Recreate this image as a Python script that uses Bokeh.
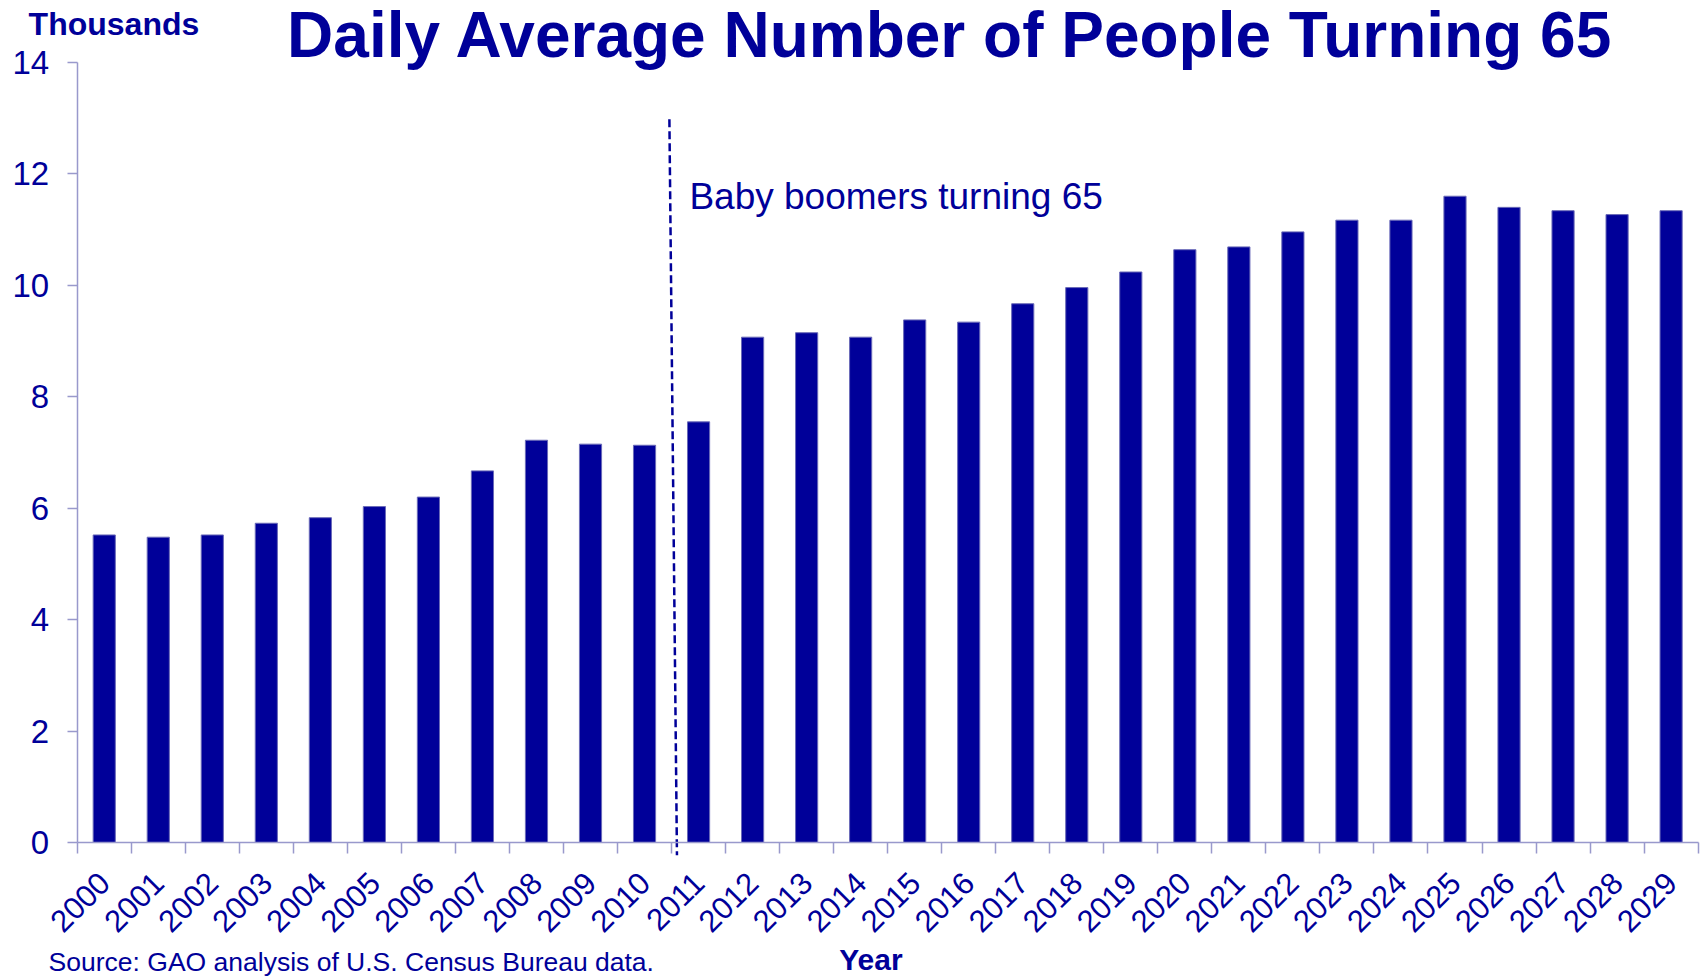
from bokeh.plotting import figure
from bokeh.models import FixedTicker, Range1d, Label, ColumnDataSource
from bokeh.embed import file_html
from bokeh.resources import INLINE

# ---- data ----
years = ["2000", "2001", "2002", "2003", "2004", "2005", "2006", "2007", "2008", "2009",
         "2010", "2011", "2012", "2013", "2014", "2015", "2016", "2017", "2018", "2019",
         "2020", "2021", "2022", "2023", "2024", "2025", "2026", "2027", "2028", "2029"]
people_thousands = [5.52, 5.48, 5.52, 5.73, 5.83, 6.03, 6.20, 6.67, 7.22, 7.15,
                    7.13, 7.55, 9.07, 9.15, 9.07, 9.38, 9.34, 9.67, 9.96, 10.24,
                    10.64, 10.69, 10.96, 11.17, 11.17, 11.60, 11.40, 11.34, 11.27, 11.34]
y_ticks = [0, 2, 4, 6, 8, 10, 12, 14]
divider_x = [10.46, 10.60]
divider_y = [12.98, -0.23]

NAVY = "#000099"
AXIS = "#9999cc"
FONT = "Liberation Sans"

xs = list(range(len(years)))
src = ColumnDataSource(data=dict(x=xs, top=people_thousands, year=years))

p = figure(width=1700, height=979, output_backend="svg", toolbar_location=None, title=None,
           x_range=Range1d(-1.92, 29.544), y_range=Range1d(-2.459, 15.113),
           min_border_left=0, min_border_right=0, min_border_top=0, min_border_bottom=0)
p.background_fill_color = "white"
p.border_fill_color = "white"
p.outline_line_color = None
p.xgrid.grid_line_color = None
p.ygrid.grid_line_color = None

p.vbar(x="x", top="top", width=0.41, source=src, fill_color=NAVY,
       line_color="#6a6ab8", line_width=1)

# dashed divider (baby boomers start)
p.line(x=divider_x, y=divider_y, line_color=NAVY, line_width=2.5, line_dash="8 4")

# x axis: labels at category centres, small ticks at category boundaries
xa = p.xaxis[0]
xa.fixed_location = 0
xa.bounds = (-0.5, len(years) - 0.5)
xa.ticker = FixedTicker(ticks=xs, minor_ticks=[i - 0.5 for i in range(len(years) + 1)])
xa.major_label_overrides = {i: y for i, y in zip(xs, years)}
xa.major_tick_line_color = None
xa.major_tick_out = 0
xa.major_tick_in = 0
xa.minor_tick_line_color = AXIS
xa.minor_tick_out = 11
xa.minor_tick_in = 0
xa.minor_tick_line_width = 1.5
xa.axis_line_color = AXIS
xa.axis_line_width = 1.5
xa.major_label_orientation = 0.785398
xa.major_label_text_font = FONT
xa.major_label_text_font_size = "31px"
xa.major_label_text_color = NAVY
xa.major_label_standoff = 24

ya = p.yaxis[0]
ya.fixed_location = -0.5
ya.bounds = (0, 14)
ya.ticker = FixedTicker(ticks=y_ticks)
ya.major_tick_line_color = AXIS
ya.major_tick_line_width = 1.5
ya.major_tick_out = 10
ya.major_tick_in = 0
ya.minor_tick_line_color = None
ya.axis_line_color = AXIS
ya.axis_line_width = 1.5
ya.major_label_text_font = FONT
ya.major_label_text_font_size = "33px"
ya.major_label_text_color = NAVY
ya.major_label_standoff = 18

p.add_layout(Label(x=10.83, y=11.60, text="Baby boomers turning 65", text_font=FONT,
                   text_font_size="37px", text_color=NAVY, text_baseline="alphabetic"))

p.add_layout(Label(x=15.66, y=14.485, text="Daily Average Number of People Turning 65",
                   text_font=FONT, text_font_size="64px", text_font_style="bold",
                   text_color=NAVY, text_align="center", text_baseline="alphabetic"))

p.add_layout(Label(x=-1.40, y=14.70, text="Thousands", text_font=FONT,
                   text_font_size="32px", text_font_style="bold", text_color=NAVY,
                   text_baseline="alphabetic"))

p.add_layout(Label(x=-1.03, y=-2.15, text="Source: GAO analysis of U.S. Census Bureau data.",
                   text_font=FONT, text_font_size="26.5px", text_color=NAVY,
                   text_baseline="alphabetic"))

p.add_layout(Label(x=14.19, y=-2.10, text="Year", text_font=FONT, text_font_size="30px",
                   text_font_style="bold", text_color=NAVY, text_align="center",
                   text_baseline="alphabetic"))

open("out.html", "w").write(file_html(p, INLINE))
